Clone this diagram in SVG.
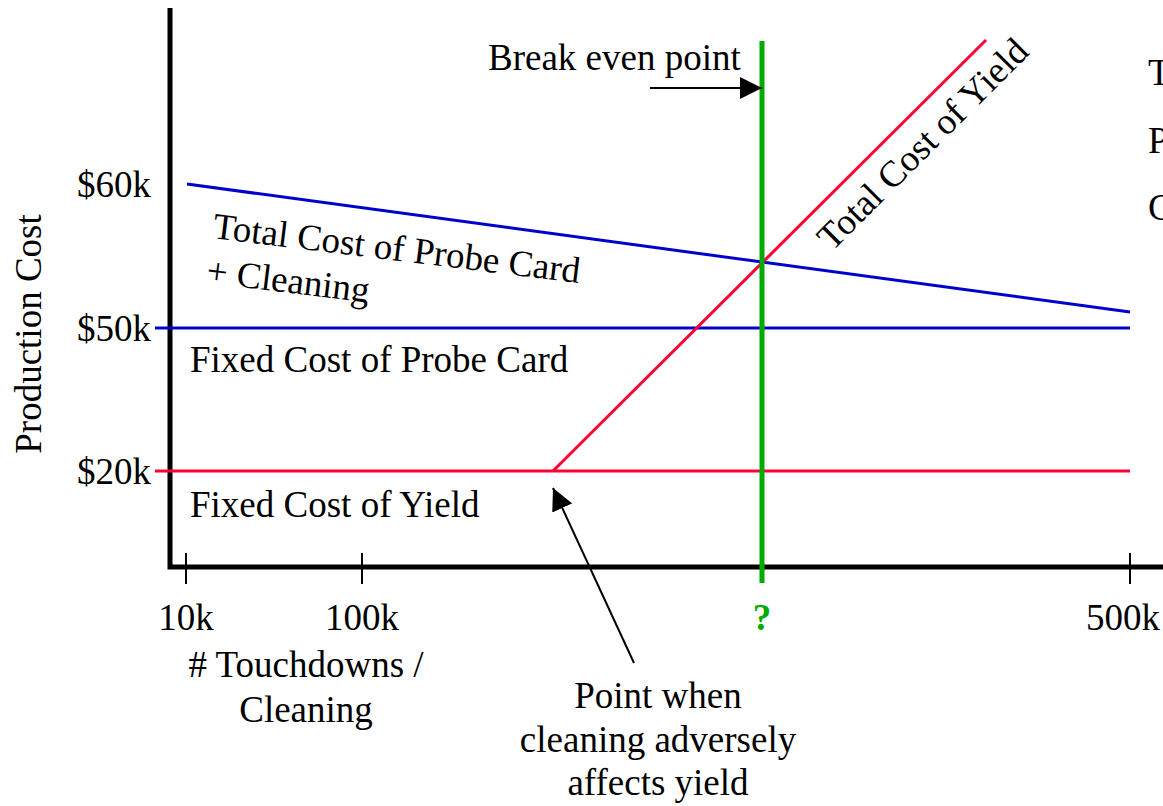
<svg xmlns="http://www.w3.org/2000/svg" width="1163" height="806" viewBox="0 0 1163 806">
<style>
text{font-family:"Liberation Serif","Times New Roman",serif;font-size:37px;fill:#000}
.mid{text-anchor:middle}
.end{text-anchor:end}
.blue{stroke:#0000cc;stroke-width:3;fill:none}
.red{stroke:#ff0033;stroke-width:3;fill:none}
.axis{stroke:#000;stroke-width:5;fill:none}
.tick{stroke:#000;stroke-width:2}
.arrow{stroke:#000;stroke-width:2;fill:none}
</style>
<defs>
<marker id="ah" markerUnits="userSpaceOnUse" markerWidth="22" markerHeight="22" viewBox="0 0 22 22" refX="22" refY="11" orient="auto">
<path d="M0,0 L22,11 L0,22 Z" fill="#000"/>
</marker>
</defs>
<rect width="1163" height="806" fill="#fff"/>
<g id="axes">
<path class="axis" d="M170,8 V567 H1163"/>
<line class="tick" x1="186" y1="553" x2="186" y2="584"/>
<line class="tick" x1="362" y1="553" x2="362" y2="584"/>
<line class="tick" x1="1130" y1="553" x2="1130" y2="584"/>
</g>
<g id="connectors">
<line class="blue" x1="155" y1="328" x2="1130" y2="328"/>
<line class="blue" x1="187" y1="184" x2="1130" y2="312"/>
<line class="red" x1="155" y1="471" x2="1130" y2="471"/>
<line class="red" x1="553" y1="471" x2="986" y2="40"/>
<line x1="762" y1="41" x2="762" y2="583" stroke="#00aa00" stroke-width="5"/>
<line class="arrow" x1="650" y1="88" x2="762" y2="88" marker-end="url(#ah)"/>
<line class="arrow" x1="634" y1="663" x2="553" y2="488" marker-end="url(#ah)"/>
</g>
<g id="ylabels">
<text class="end" x="151" y="197">$60k</text>
<text class="end" x="151" y="341">$50k</text>
<text class="end" x="151" y="484">$20k</text>
<text class="mid" transform="translate(41,334) rotate(-90)">Production Cost</text>
</g>
<g id="xlabels">
<text class="mid" x="186" y="630">10k</text>
<text class="mid" x="362" y="630">100k</text>
<text class="mid" x="1123" y="630">500k</text>
<text class="mid" x="762" y="630" style="fill:#00aa00;font-weight:bold">?</text>
<text class="mid" x="306" y="677"># Touchdowns /</text>
<text class="mid" x="306" y="722">Cleaning</text>
</g>
<g id="line-labels">
<text transform="translate(212,238) rotate(7)"><tspan x="0" y="0">Total Cost of Probe Card</tspan><tspan x="-1" y="45">+ Cleaning</tspan></text>
<text x="190" y="372">Fixed Cost of Probe Card</text>
<text x="190" y="517">Fixed Cost of Yield</text>
<text transform="translate(832,252) rotate(-45)">Total Cost of Yield</text>
<text x="488" y="70">Break even point</text>
</g>
<g id="note">
<text class="mid" x="658" y="708">Point when</text>
<text class="mid" x="658" y="752">cleaning adversely</text>
<text class="mid" x="658" y="795">affects yield</text>
</g>
<g id="right-text">
<text x="1148" y="85">T</text>
<text x="1148" y="153">P</text>
<text x="1148" y="220">C</text>
</g>
</svg>
